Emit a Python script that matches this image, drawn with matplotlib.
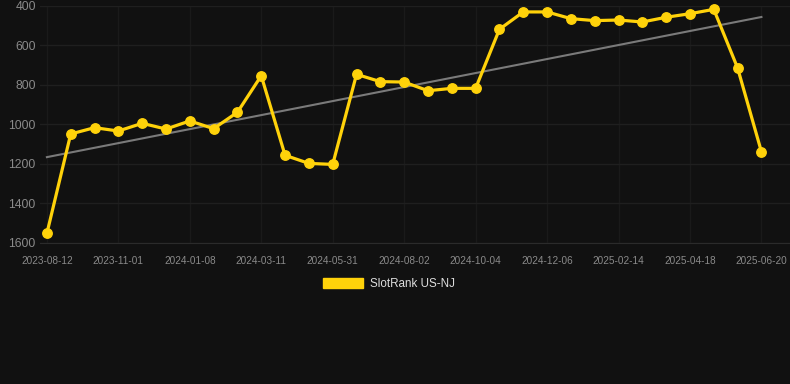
import numpy as np
import matplotlib
matplotlib.use('Agg')
import matplotlib.pyplot as plt
from matplotlib.patches import Patch

plt.rcParams['font.family'] = ['Liberation Sans', 'DejaVu Sans']

# Thứ hạng SlotRank US-NJ (mỗi điểm một kỳ, nhãn ngày cách nhau 3 điểm)
ranks = [1551, 1048, 1016, 1033, 994, 1023, 982, 1021, 938, 753,
         1156, 1197, 1202, 746, 783, 785, 829, 817, 817, 518,
         430, 430, 464, 474, 471, 481, 457, 439, 417, 714, 1138]
tick_labels = ['2023-08-12', '2023-11-01', '2024-01-08', '2024-03-11',
               '2024-05-31', '2024-08-02', '2024-10-04', '2024-12-06',
               '2025-02-14', '2025-04-18', '2025-06-20']
y_ticks = [400, 600, 800, 1000, 1200, 1400, 1600]
series_name = 'SlotRank US-NJ'

bg = '#111111'
gold = '#FFD20A'

x = np.arange(len(ranks))
fig = plt.figure(figsize=(7.9, 3.84), dpi=100, facecolor=bg)
ax = fig.add_axes([40 / 790, 1 - 243 / 384, 750 / 790, 237 / 384])
ax.set_facecolor(bg)

# đường xu hướng tuyến tính
k, b = np.polyfit(x, ranks, 1)
ax.plot(x, k * x + b, color='#7a7a7a', linewidth=1.5, zorder=2)

ax.plot(x, ranks, color=gold, linewidth=2.3, marker='o', markersize=6.8,
        zorder=3, clip_on=False)

ax.set_xlim(-0.29, 31.2)
ax.set_ylim(1600, 400)
ax.set_yticks(y_ticks)
ax.set_yticklabels([str(v) for v in y_ticks])
ax.set_xticks(x[::3])
ax.set_xticklabels(tick_labels)

ax.grid(True, axis='y', color='#1f1f1f', linewidth=1)
ax.grid(True, axis='x', color='#1a1a1a', linewidth=1)
ax.set_axisbelow(True)
for side in ['top', 'right', 'left']:
    ax.spines[side].set_visible(False)
ax.spines['bottom'].set_color('#2b2b2b')
ax.tick_params(axis='y', length=0, pad=3, labelsize=8.7, labelcolor='#8a8a8a')
ax.tick_params(axis='x', length=0, pad=9, labelsize=7.2, labelcolor='#8a8a8a')

fig.legend(handles=[Patch(facecolor=gold, edgecolor=gold)], labels=[series_name],
           loc='center', bbox_to_anchor=(389 / 790, 1 - 284 / 384),
           frameon=False, fontsize=8.4, labelcolor='#dddddd',
           handlelength=3.4, handleheight=1.0, handletextpad=0.6)

fig.savefig('out.png', dpi=100, facecolor=bg)
